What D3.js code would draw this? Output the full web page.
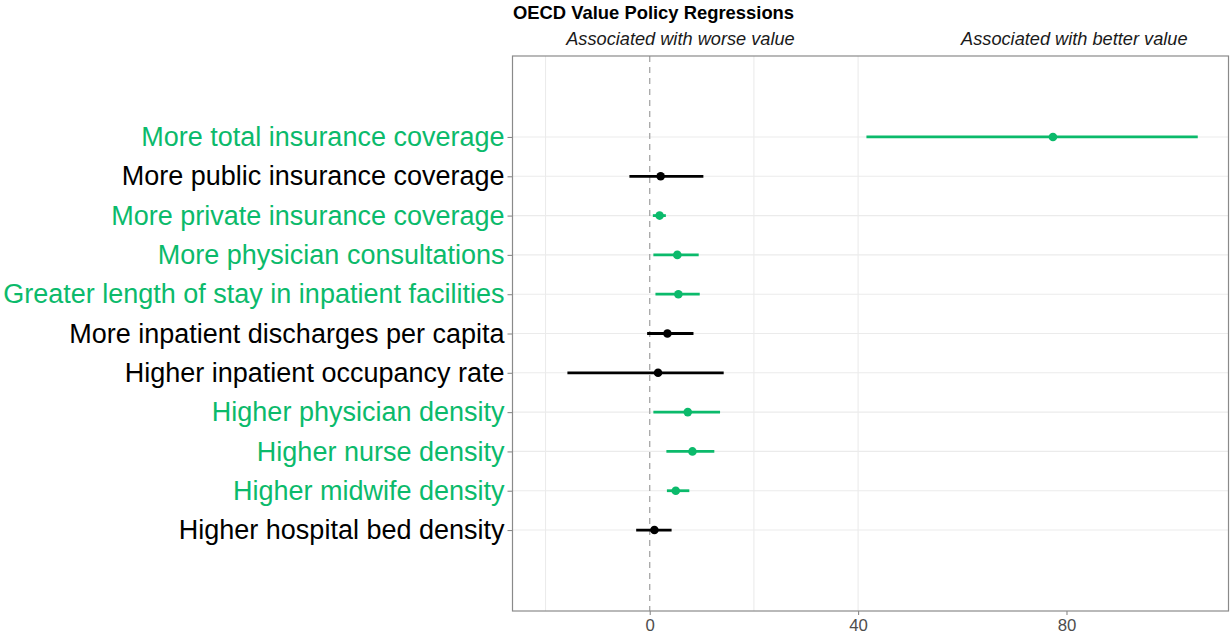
<!DOCTYPE html>
<html>
<head>
<meta charset="utf-8">
<script src="https://cdn.jsdelivr.net/npm/d3@7"></script>
<style>
  html, body { margin: 0; padding: 0; background: #fff; }
  svg { display: block; font-family: "Liberation Sans", Arial, Helvetica, sans-serif; }
</style>
</head>
<body>
<svg id="chart" width="1230" height="638"></svg>
<script>
// Regression terms, top to bottom
const categories = [
  "More total insurance coverage",
  "More public insurance coverage",
  "More private insurance coverage",
  "More physician consultations",
  "Greater length of stay in inpatient facilities",
  "More inpatient discharges per capita",
  "Higher inpatient occupancy rate",
  "Higher physician density",
  "Higher nurse density",
  "Higher midwife density",
  "Higher hospital bed density"
];
// Point estimates and interval bounds
const estimates = [77.4, 2.1, 1.9, 5.3, 5.5, 3.4, 1.6, 7.3, 8.2, 5.0, 0.9];
const lower     = [41.6, -3.9, 0.6, 0.7, 1.1, -0.5, -15.8, 0.7, 3.2, 3.3, -2.6];
const upper     = [105.2, 10.3, 3.1, 9.4, 9.6, 8.4, 14.2, 13.5, 12.4, 7.6, 4.2];
// Whether the interval excludes zero
const significant = [true, false, true, true, true, false, false, true, true, true, false];

const xTicks = [0, 40, 80];
const xGrid = [-20, 20, 40];
const titleText = "OECD Value Policy Regressions";
const sideLabels = [
  { text: "Associated with worse value", at: 5.9 },
  { text: "Associated with better value", at: 81.5 }
];

const GREEN = "#0bba6b";
const BLACK = "#000000";

const svg = d3.select("#chart");
const panel = { left: 512.5, right: 1228.5, top: 56, bottom: 611 };

const x = d3.scaleLinear()
  .domain([-26.34, 111.1])
  .range([panel.left, panel.right]);

const y = d3.scalePoint()
  .domain(categories)
  .range([panel.top, panel.bottom])
  .padding(2.06);

const rows = categories.map((c, i) => ({
  cat: c, est: estimates[i], lo: lower[i], hi: upper[i], sig: significant[i]
}));

// Gridlines
const grid = svg.append("g");
grid.selectAll("line.h").data(categories).join("line")
  .attr("x1", panel.left).attr("x2", panel.right)
  .attr("y1", d => y(d)).attr("y2", d => y(d))
  .attr("stroke", "#ebebeb").attr("stroke-width", 1.1);
grid.selectAll("line.v").data(xGrid).join("line")
  .attr("x1", d => x(d)).attr("x2", d => x(d))
  .attr("y1", panel.top).attr("y2", panel.bottom)
  .attr("stroke", "#ebebeb").attr("stroke-width", 1.1);

// Zero reference line
svg.append("line")
  .attr("x1", x(0)).attr("x2", x(0))
  .attr("y1", panel.top).attr("y2", panel.bottom)
  .attr("stroke", "#a6a6a6").attr("stroke-width", 1.3)
  .attr("stroke-dasharray", "6,5");

// Intervals and estimates
const marks = svg.append("g");
marks.selectAll("line.ci").data(rows).join("line")
  .attr("x1", d => x(d.lo)).attr("x2", d => x(d.hi))
  .attr("y1", d => y(d.cat)).attr("y2", d => y(d.cat))
  .attr("stroke", d => d.sig ? GREEN : BLACK)
  .attr("stroke-width", 2.8);
marks.selectAll("circle").data(rows).join("circle")
  .attr("cx", d => x(d.est)).attr("cy", d => y(d.cat))
  .attr("r", 4.3)
  .attr("fill", d => d.sig ? GREEN : BLACK);

// Panel border
svg.append("rect")
  .attr("x", panel.left).attr("y", panel.top)
  .attr("width", panel.right - panel.left)
  .attr("height", panel.bottom - panel.top)
  .attr("fill", "none").attr("stroke", "#8a8a8a").attr("stroke-width", 1.2);

// X axis
const xAxis = svg.append("g")
  .attr("transform", `translate(0,${panel.bottom})`)
  .call(d3.axisBottom(x).tickValues(xTicks).tickSize(4).tickPadding(4));
xAxis.select(".domain").remove();
xAxis.selectAll(".tick line").attr("stroke", "#8a8a8a").attr("stroke-width", 1.1);
xAxis.selectAll(".tick text")
  .attr("fill", "#4d4d4d").style("font-size", "16.8px")
  .style("font-family", "'Liberation Sans', Arial, sans-serif");

// Y axis
const sigByCat = new Map(rows.map(r => [r.cat, r.sig]));
const yAxis = svg.append("g")
  .attr("transform", `translate(${panel.left},0)`)
  .call(d3.axisLeft(y).tickSize(5).tickPadding(3));
yAxis.select(".domain").remove();
yAxis.selectAll(".tick line").attr("stroke", "#8a8a8a").attr("stroke-width", 1.1);
yAxis.selectAll(".tick text")
  .attr("fill", d => sigByCat.get(d) ? GREEN : BLACK)
  .style("font-size", "27px")
  .style("font-family", "'Liberation Sans', Arial, sans-serif");

// Title and side annotations
svg.append("text")
  .attr("x", 513).attr("y", 18.5)
  .attr("font-weight", "bold").attr("font-size", 18.4)
  .attr("fill", "#000")
  .text(titleText);

svg.selectAll("text.side").data(sideLabels).join("text")
  .attr("class", "side")
  .attr("x", d => x(d.at)).attr("y", 45)
  .attr("text-anchor", "middle")
  .attr("font-style", "italic").attr("font-size", 18.2)
  .attr("fill", "#1a1a1a")
  .text(d => d.text);
</script>
</body>
</html>
